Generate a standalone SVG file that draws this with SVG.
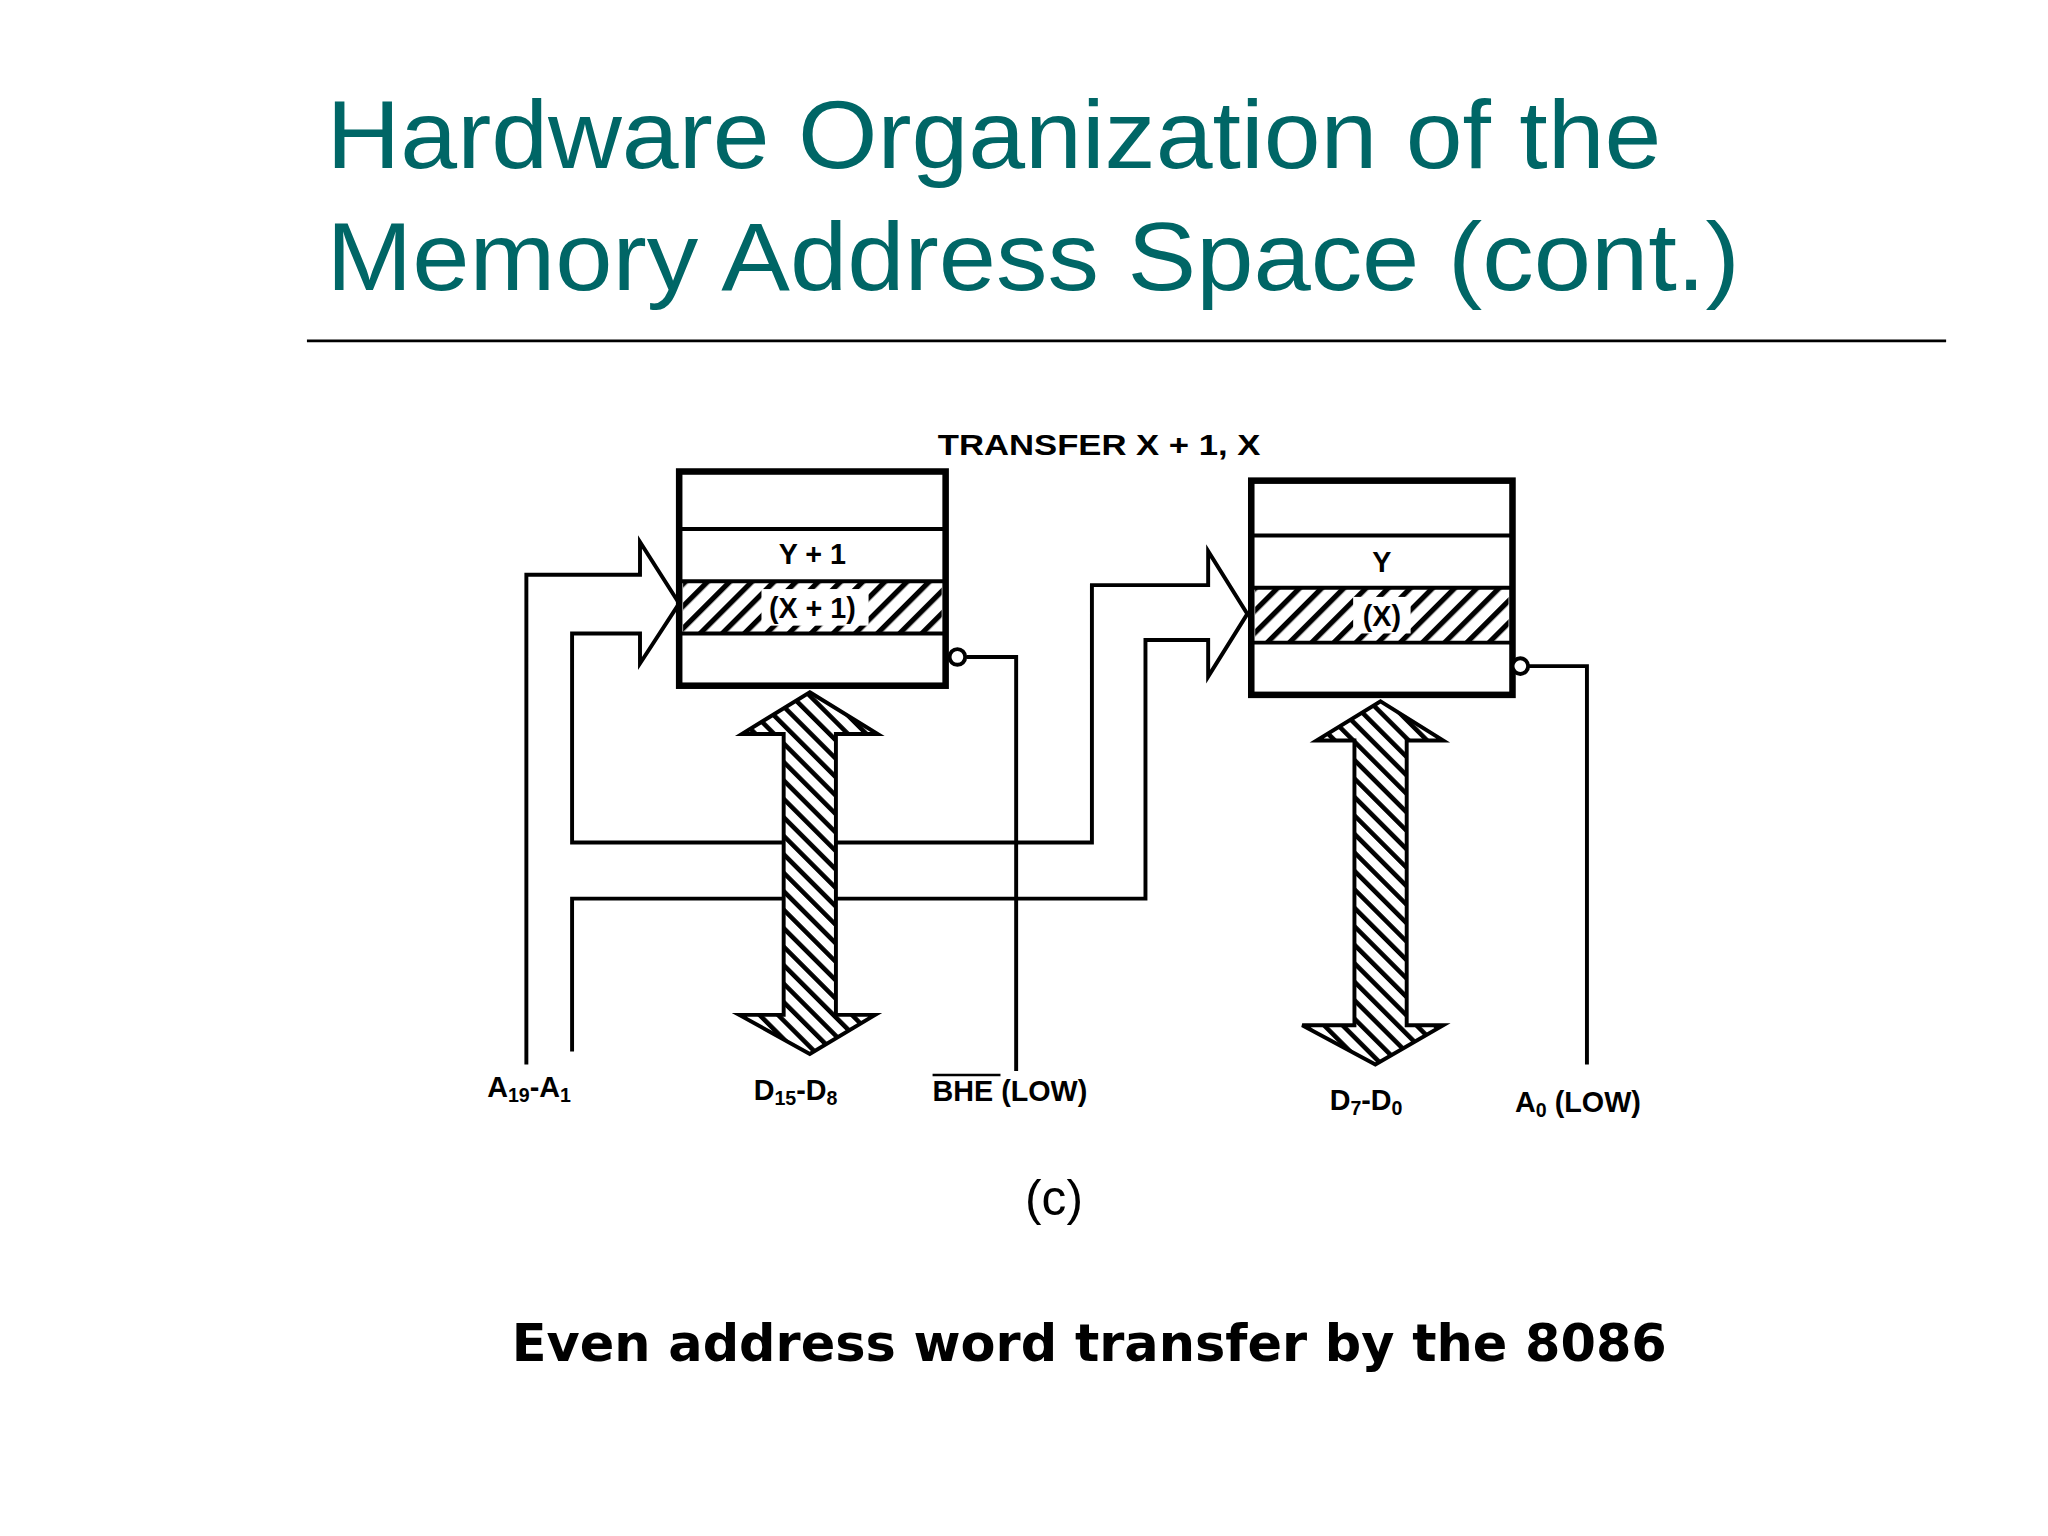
<svg xmlns="http://www.w3.org/2000/svg" width="2048" height="1536" viewBox="0 0 2048 1536">
<defs>
<pattern id="h1" patternUnits="userSpaceOnUse" width="12" height="12" patternTransform="rotate(45)"><rect width="12" height="12" fill="#fff"/><rect width="4" height="12" fill="#000"/></pattern>
<pattern id="h2" patternUnits="userSpaceOnUse" width="10" height="10" patternTransform="rotate(-45)"><rect width="10" height="10" fill="#fff"/><rect width="3.5" height="10" fill="#000"/></pattern>
</defs>
<style>
.t{font-family:"Liberation Sans",Arial,sans-serif;fill:#006666;font-size:74px}
.l{font-family:"Liberation Sans",Arial,sans-serif;font-weight:bold;font-size:22px;fill:#000}
.w{fill:none;stroke:#000;stroke-width:3}
.b{fill:#fff;stroke:#000;stroke-width:5}
.r{fill:none;stroke:#000;stroke-width:3}
</style>
<rect width="2048" height="1536" fill="#fff"/>
<g transform="scale(1.30612)">
<g id="title">
<text class="t" x="250" y="129" textLength="1022" lengthAdjust="spacingAndGlyphs">Hardware Organization of the</text>
<text class="t" x="250" y="222" textLength="1082" lengthAdjust="spacingAndGlyphs">Memory Address Space (cont.)</text>
<line x1="235" y1="261" x2="1490" y2="261" stroke="#000" stroke-width="2"/>
</g>
<text class="l" x="718" y="348" textLength="247" lengthAdjust="spacingAndGlyphs">TRANSFER X + 1, X</text>
<g id="connectors">
<path class="w" d="M403,815 V440 H490 V415 L520,462 L490,508 V485 H438 V645 H836 V448 H925 V422 L955,470 L925,518 V490 H877 V688 H438 V805"/>
<path class="w" d="M740,503 H778 V820"/>
<path class="w" d="M1168,510 H1215 V815"/>
</g>
<g id="mem-high">
<rect class="b" x="520" y="361" width="204" height="164"/>
<rect x="523" y="445" width="198" height="40" fill="url(#h1)"/>
<line class="r" x1="520" y1="405" x2="724" y2="405"/>
<line class="r" x1="520" y1="445" x2="724" y2="445"/>
<line class="r" x1="520" y1="485" x2="724" y2="485"/>
<rect x="583" y="451" width="82" height="28" fill="#fff"/>
<text class="l" x="622" y="432" text-anchor="middle">Y + 1</text>
<text class="l" x="622" y="473" text-anchor="middle">(X + 1)</text>
<circle cx="733" cy="503" r="6" fill="#fff" stroke="#000" stroke-width="3"/>
</g>
<g id="mem-low">
<rect class="b" x="958" y="368" width="200" height="164"/>
<rect x="961" y="450" width="194" height="42" fill="url(#h1)"/>
<line class="r" x1="958" y1="410" x2="1158" y2="410"/>
<line class="r" x1="958" y1="450" x2="1158" y2="450"/>
<line class="r" x1="958" y1="492" x2="1158" y2="492"/>
<rect x="1036" y="457" width="44" height="28" fill="#fff"/>
<text class="l" x="1058" y="438" text-anchor="middle">Y</text>
<text class="l" x="1058" y="479" text-anchor="middle">(X)</text>
<circle cx="1164" cy="510" r="6" fill="#fff" stroke="#000" stroke-width="3"/>
</g>
<g id="bus-high">
<path d="M620,530 L672,562 H640 V777 H670 L620,807 L566,777 H600 V562 H568 Z" fill="url(#h2)" stroke="#000" stroke-width="3"/>
</g>
<g id="bus-low">
<path d="M1057,537 L1105,567 H1077 V785 H1105 L1053,815 L997,785 H1037 V567 H1008 Z" fill="url(#h2)" stroke="#000" stroke-width="3"/>
</g>
<g id="labels">
<text class="l" x="373" y="840">A<tspan font-size="15" dy="4">19</tspan><tspan dy="-4">-A</tspan><tspan font-size="15" dy="4">1</tspan></text>
<text class="l" x="577" y="842">D<tspan font-size="15" dy="4">15</tspan><tspan dy="-4">-D</tspan><tspan font-size="15" dy="4">8</tspan></text>
<text class="l" x="714" y="843">BHE (LOW)</text>
<line x1="714" y1="823" x2="766" y2="823" stroke="#000" stroke-width="2"/>
<text class="l" x="1018" y="850">D<tspan font-size="15" dy="4">7</tspan><tspan dy="-4">-D</tspan><tspan font-size="15" dy="4">0</tspan></text>
<text class="l" x="1160" y="851">A<tspan font-size="15" dy="4">0</tspan><tspan dy="-4"> (LOW)</tspan></text>
<text x="807" y="930" text-anchor="middle" font-family="Liberation Sans,Arial,sans-serif" font-size="38">(c)</text>
<text x="834" y="1042" text-anchor="middle" font-family="DejaVu Sans,sans-serif" font-weight="bold" font-size="39">Even address word transfer by the 8086</text>
</g>
</g>
</svg>
